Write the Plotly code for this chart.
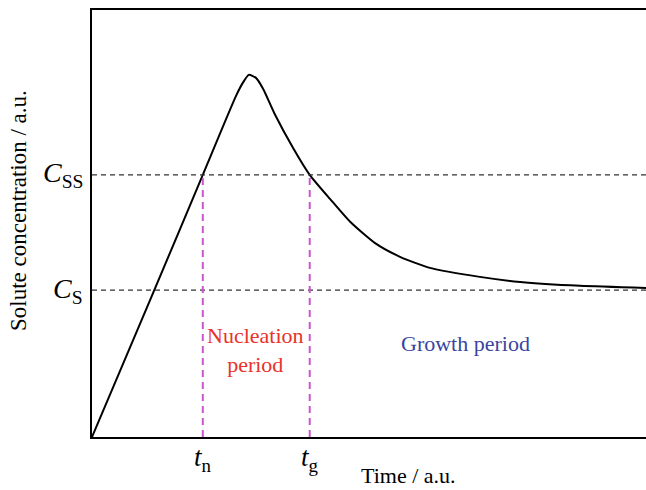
import plotly.graph_objects as go

# Data (arbitrary units)
time = [0, 10.5, 20.0, 26.0, 27.3, 28.3, 29.6, 30.9, 33.0, 36.3, 39.3,
        43.0, 46.6, 51.1, 55.6, 61.0, 70.0, 77.3, 88.1, 100]
conc = [0, 32.1, 61.4, 79.9, 83.1, 84.8, 84.1, 81.5, 75.6, 67.7, 61.4,
        55.7, 50.4, 45.4, 42.2, 39.6, 37.5, 36.3, 35.4, 34.9]
C_SS = 61.4
C_S = 34.4
t_n = 20.0
t_g = 39.3

FONT = "Liberation Serif"

fig = go.Figure()
fig.add_trace(go.Scatter(x=time, y=conc, mode="lines",
                         line=dict(color="black", width=2, shape="spline", smoothing=0.6),
                         hoverinfo="skip", showlegend=False))

shapes = [
    dict(type="line", xref="x", yref="y", x0=0, x1=100, y0=C_SS, y1=C_SS,
         line=dict(color="#333333", width=1.3, dash="5px,4px")),
    dict(type="line", xref="x", yref="y", x0=0, x1=100, y0=C_S, y1=C_S,
         line=dict(color="#333333", width=1.3, dash="5px,4px")),
    dict(type="line", xref="x", yref="y", x0=t_n, x1=t_n, y0=0, y1=C_SS,
         line=dict(color="#cc55cc", width=2, dash="7px,5px")),
    dict(type="line", xref="x", yref="y", x0=t_g, x1=t_g, y0=0, y1=C_SS,
         line=dict(color="#cc55cc", width=2, dash="7px,5px")),
]

annotations = [
    dict(xref="paper", yref="y", x=-0.012, y=C_SS, xanchor="right", yanchor="middle",
         text="<i>C</i><sub>SS</sub>", showarrow=False, font=dict(family=FONT, size=28, color="black")),
    dict(xref="paper", yref="y", x=-0.012, y=C_S, xanchor="right", yanchor="middle",
         text="<i>C</i><sub>S</sub>", showarrow=False, font=dict(family=FONT, size=28, color="black")),
    dict(xref="x", yref="paper", x=t_n, y=-0.008, xanchor="center", yanchor="top",
         text="<i>t</i><sub>n</sub>", showarrow=False, font=dict(family=FONT, size=27, color="black")),
    dict(xref="x", yref="paper", x=t_g, y=-0.008, xanchor="center", yanchor="top",
         text="<i>t</i><sub>g</sub>", showarrow=False, font=dict(family=FONT, size=27, color="black")),
    dict(xref="x", yref="y", x=29.6, y=20.4, xanchor="center", yanchor="middle",
         text="Nucleation<br>period", showarrow=False, font=dict(family=FONT, size=22, color="#e8322a")),
    dict(xref="x", yref="y", x=67.5, y=22.0, xanchor="center", yanchor="middle",
         text="Growth period", showarrow=False, font=dict(family=FONT, size=22, color="#3a45a0")),
    dict(xref="paper", yref="paper", x=0.571, y=-0.124, xanchor="center", yanchor="bottom",
         text="Time / a.u.", showarrow=False, font=dict(family=FONT, size=22, color="black")),
    dict(xref="paper", yref="paper", x=-0.133, y=0.53, xanchor="center", yanchor="middle",
         textangle=-90, text="Solute concentration / a.u.", showarrow=False,
         font=dict(family=FONT, size=23, color="black")),
]

fig.update_layout(
    width=646, height=490,
    margin=dict(l=92, r=0, t=10, b=53),
    paper_bgcolor="white", plot_bgcolor="white",
    shapes=shapes, annotations=annotations,
    xaxis=dict(range=[0, 100], showgrid=False, zeroline=False, showticklabels=False,
               ticks="", showline=True, linecolor="black", linewidth=2, mirror=True),
    yaxis=dict(range=[0, 100], showgrid=False, zeroline=False, showticklabels=False,
               ticks="", showline=True, linecolor="black", linewidth=2, mirror=False),
)

fig.write_html("out.html")
